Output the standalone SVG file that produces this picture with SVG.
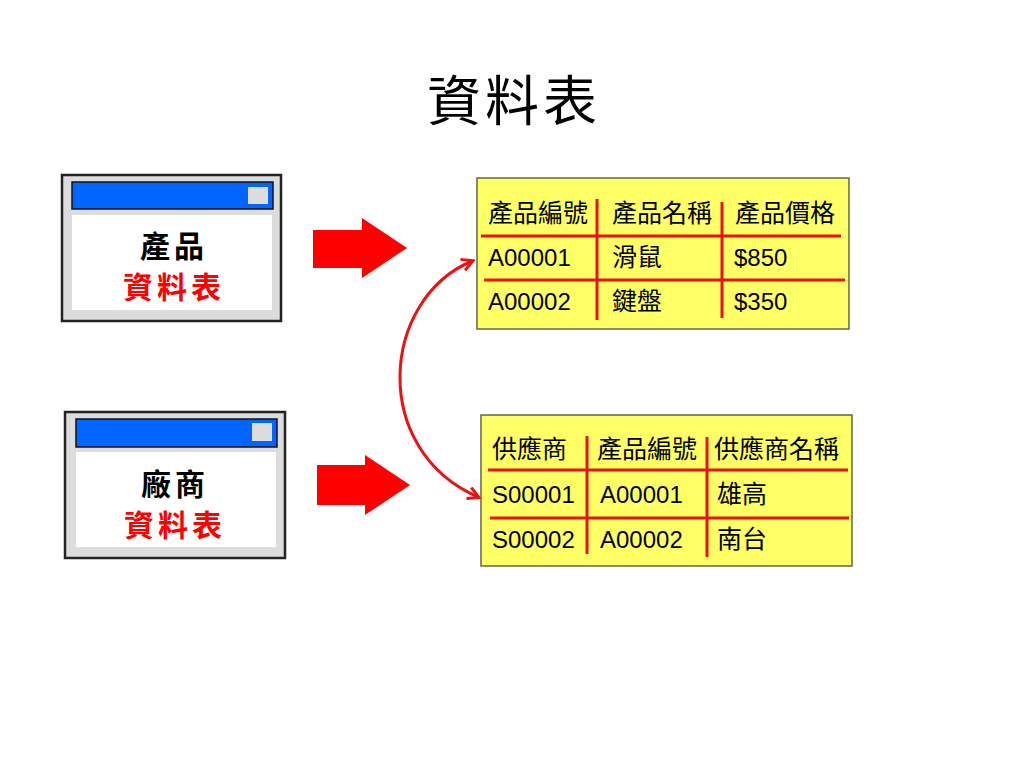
<svg xmlns="http://www.w3.org/2000/svg" width="1024" height="768" viewBox="0 0 1024 768">
<style>
.win{fill:#dcdcdc;stroke:#222;stroke-width:2.5}
.bar{fill:#0066ff;stroke:#111;stroke-width:1.5}
.btn{fill:#dcdcdc}
.pane{fill:#fff}
.wt{font-family:"Noto Sans CJK TC","Noto Sans CJK SC",sans-serif;font-size:30px;font-weight:bold;text-anchor:middle;letter-spacing:4px}
.tbl{fill:#ffff66;stroke:#666644;stroke-width:1.5}
.grid{stroke:#ee1111;stroke-width:3;fill:none}
.tt{font-family:"Liberation Sans","Noto Sans CJK TC",sans-serif;font-size:24px;fill:#000}
.cj{font-size:25px}
.big{fill:#ff0000}
</style>
<defs>
<marker id="ah" markerWidth="14" markerHeight="14" refX="11" refY="7" orient="auto-start-reverse" markerUnits="userSpaceOnUse">
<path d="M1,1 L12,7 L1,13" fill="none" stroke="#ee1111" stroke-width="3"/>
</marker>
</defs>
<rect width="1024" height="768" fill="#fff"/>
<text x="514" y="121" font-family="Noto Sans CJK TC,Noto Sans CJK SC,serif" font-size="54" text-anchor="middle" letter-spacing="4">資料表</text>

<g id="win1">
<rect class="win" x="62" y="175" width="219" height="146"/>
<rect class="bar" x="72" y="182" width="201" height="27"/>
<rect class="btn" x="248" y="187" width="20" height="17"/>
<rect class="pane" x="72" y="215" width="200" height="95"/>
<text class="wt" x="174" y="257">產品</text>
<text class="wt" x="174" y="298" fill="#ff0000">資料表</text>
</g>

<g id="win2">
<rect class="win" x="65" y="412" width="220" height="146"/>
<rect class="bar" x="76" y="419" width="201" height="28"/>
<rect class="btn" x="252" y="423" width="20" height="18"/>
<rect class="pane" x="76" y="452" width="200" height="95"/>
<text class="wt" x="175" y="495">廠商</text>
<text class="wt" x="175" y="536" fill="#ff0000">資料表</text>
</g>

<g id="table1">
<rect class="tbl" x="477" y="178" width="372" height="151"/>
<path class="grid" d="M481,236 H841 M484,280 H845 M597,199 V320 M722,202 V318"/>
<text class="tt cj" x="488" y="222">產品編號</text>
<text class="tt cj" x="612" y="222">產品名稱</text>
<text class="tt cj" x="735" y="222">產品價格</text>
<text class="tt" x="488" y="266">A00001</text>
<text class="tt cj" x="612" y="266">滑鼠</text>
<text class="tt" x="734" y="266">$850</text>
<text class="tt" x="488" y="310">A00002</text>
<text class="tt cj" x="612" y="310">鍵盤</text>
<text class="tt" x="734" y="310">$350</text>
</g>

<g id="table2">
<rect class="tbl" x="481" y="415" width="371" height="151"/>
<path class="grid" d="M488,470 H848 M490,518 H849 M587,436 V554 M707,437 V557"/>
<text class="tt cj" x="492" y="458">供應商</text>
<text class="tt cj" x="597" y="458">產品編號</text>
<text class="tt cj" x="714" y="458">供應商名稱</text>
<text class="tt" x="492" y="503">S00001</text>
<text class="tt" x="600" y="503">A00001</text>
<text class="tt cj" x="717" y="503">雄高</text>
<text class="tt" x="492" y="548">S00002</text>
<text class="tt" x="600" y="548">A00002</text>
<text class="tt cj" x="717" y="548">南台</text>
</g>

<g id="connectors">
<path class="big" d="M313,230 H362 V218 L407,248 L362,278 V268 H313 Z"/>
<path class="big" d="M317,465 H365 V455 L410,485 L365,515 V505 H317 Z"/>
<path d="M472,261 C380,300 370,450 478,497" fill="none" stroke="#ee1111" stroke-width="3" marker-start="url(#ah)" marker-end="url(#ah)"/>
</g>
</svg>
